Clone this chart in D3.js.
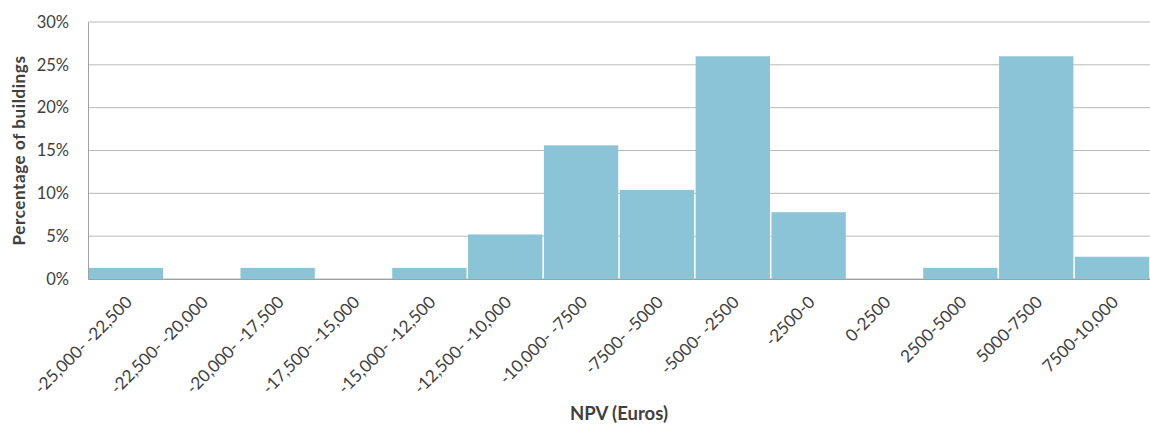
<!DOCTYPE html>
<html>
<head>
<meta charset="utf-8">
<script src="https://cdn.jsdelivr.net/npm/d3@7"></script>
<style>
  html, body { margin: 0; padding: 0; background: #fff; }
  svg text { font-family: Lato, "Open Sans", "Liberation Sans", sans-serif; fill: #404040; }
</style>
</head>
<body>
<svg id="chart" width="1150" height="427"></svg>
<script>
// NPV ranges (Euros) and share of buildings in each range (%)
const categories = [
  "-25,000- -22,500", "-22,500- -20,000", "-20,000- -17,500", "-17,500- -15,000",
  "-15,000- -12,500", "-12,500- -10,000", "-10,000- -7500", "-7500- -5000",
  "-5000- -2500", "-2500-0", "0-2500", "2500-5000", "5000-7500", "7500-10,000"
];
const shares = [1.3, 0, 1.3, 0, 1.3, 5.2, 15.6, 10.4, 26, 7.8, 0, 1.3, 26, 2.6];
const yTicks = [0, 5, 10, 15, 20, 25, 30];

const svg = d3.select("#chart");
const margin = { top: 22, right: 0, bottom: 148, left: 88 };
const width = 1150 - margin.left - margin.right;
const height = 427 - margin.top - margin.bottom;

const g = svg.append("g").attr("transform", `translate(${margin.left},${margin.top})`);

const x = d3.scaleBand().domain(categories).range([0, width]).paddingInner(0.02).paddingOuter(0.01);
const y = d3.scaleLinear().domain([0, 30]).range([height, 0]);

// horizontal gridlines
g.append("g")
  .selectAll("line")
  .data(yTicks)
  .join("line")
  .attr("x1", 0).attr("x2", width)
  .attr("y1", d => y(d)).attr("y2", d => y(d))
  .attr("stroke", "#b8b8b8").attr("stroke-width", 1);

// bars
g.append("g")
  .selectAll("rect")
  .data(shares)
  .join("rect")
  .attr("x", (d, i) => x(categories[i]))
  .attr("width", x.bandwidth())
  .attr("y", d => y(d))
  .attr("height", d => height - y(d))
  .attr("fill", "#8cc4d7");

// y axis
const yAxis = g.append("g")
  .call(d3.axisLeft(y).tickValues(yTicks).tickFormat(d => d + "%").tickSize(0).tickPadding(19));
yAxis.select(".domain").attr("stroke", "#a0a0a0");
yAxis.selectAll("text").style("font-size", "16.5px").attr("fill", "#404040");

// x axis
const xAxis = g.append("g")
  .attr("transform", `translate(0,${height})`)
  .call(d3.axisBottom(x).tickSize(0));
xAxis.select(".domain").attr("stroke", "#a0a0a0");
xAxis.selectAll("text")
  .style("font-size", "17px")
  .attr("fill", "#404040")
  .attr("text-anchor", "end")
  .attr("dy", "0.35em")
  .attr("transform", "translate(1,18) rotate(-45)");

// axis titles
svg.append("text")
  .attr("x", margin.left + width / 2)
  .attr("y", 420)
  .attr("text-anchor", "middle")
  .style("font-size", "18.5px")
  .style("font-weight", "bold")
  .text("NPV (Euros)");

svg.append("text")
  .attr("transform", `translate(25,${margin.top + height / 2}) rotate(-90)`)
  .attr("text-anchor", "middle")
  .style("font-size", "17px")
  .style("letter-spacing", "0.6px")
  .style("font-weight", "bold")
  .text("Percentage of buildings");
</script>
</body>
</html>
